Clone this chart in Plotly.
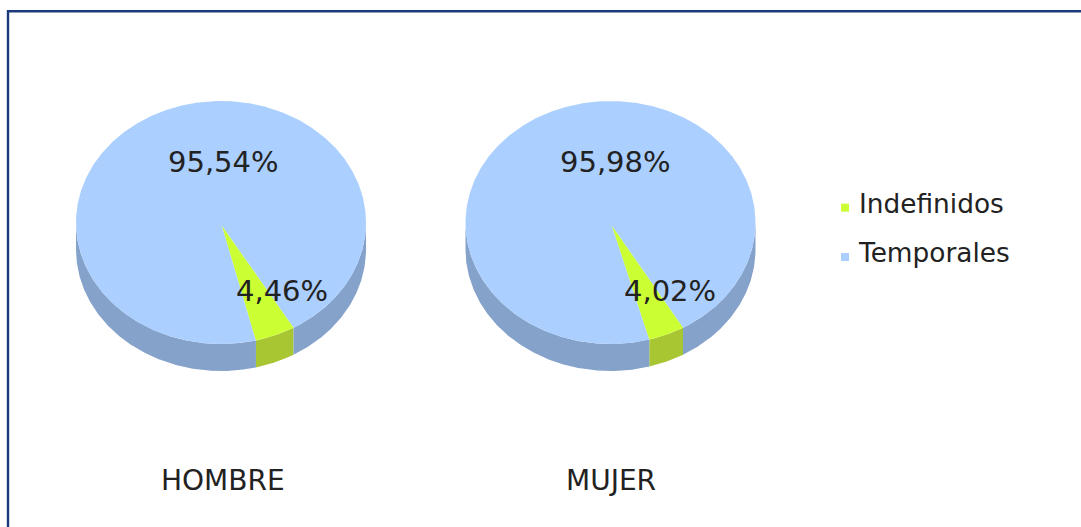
import math
import plotly.graph_objects as go

series_names = ["Indefinidos", "Temporales"]
categories = ["HOMBRE", "MUJER"]
hombre_values = [4.46, 95.54]
mujer_values = [4.02, 95.98]
all_values = [hombre_values, mujer_values]

TOP_COLORS = ["#ccff33", "#abcfff"]
SIDE_COLORS = ["#a8c632", "#85a2ca"]
TEXT = "#222222"
FONT = "DejaVu Sans, Verdana, sans-serif"
W, H = 1081, 527

centers = [(221.0, 222.5), (610.5, 222.5)]
apex_offsets = [(1.0, 3.5), (1.5, 3.5)]
label_pos = [[(282, 291), (223, 162)], [(670, 291), (615, 162)]]
cat_pos = [(223, 480), (611, 480)]
RX, RY, DEPTH = 145.0, 121.5, 27.0
ROTATION = 150.0


def pt(cx, cy, a, dy=0.0):
    r = math.radians(a)
    return cx + RX * math.sin(r), cy - RY * math.cos(r) + dy


def arc(a0, a1):
    n = max(2, int(abs(a1 - a0) * 2))
    return [a0 + (a1 - a0) * i / n for i in range(n + 1)]


fig = go.Figure()

for (cx, cy), (ox, oy), vals in zip(centers, apex_offsets, all_values):
    total = sum(vals)
    spans = []
    a = ROTATION
    for v in vals:
        spans.append((a, a + v / total * 360.0))
        a += v / total * 360.0
    # extruded side, only where the rim faces the viewer
    for (a0, a1), col in zip(spans, SIDE_COLORS):
        for lo, hi in ((90, 270), (450, 630)):
            s, e = max(a0, lo), min(a1, hi)
            if e <= s:
                continue
            top = [pt(cx, cy, t) for t in arc(s, e)]
            bot = [pt(cx, cy, t, DEPTH) for t in arc(e, s)]
            poly = top + bot + top[:1]
            fig.add_trace(go.Scatter(x=[p[0] for p in poly], y=[p[1] for p in poly], mode="lines",
                                     fill="toself", fillcolor=col, line=dict(width=0, color=col),
                                     showlegend=False, hoverinfo="skip"))
    # top face; larger slice first so the thin one stays on top
    order = sorted(range(len(vals)), key=lambda i: -vals[i])
    for i in order:
        a0, a1 = spans[i]
        poly = [(cx + ox, cy + oy)] + [pt(cx, cy, t) for t in arc(a0, a1)] + [(cx + ox, cy + oy)]
        fig.add_trace(go.Scatter(x=[p[0] for p in poly], y=[p[1] for p in poly], mode="lines",
                                 fill="toself", fillcolor=TOP_COLORS[i],
                                 line=dict(width=0, color=TOP_COLORS[i]),
                                 showlegend=False, hoverinfo="skip"))

for name, col in zip(series_names, TOP_COLORS):
    fig.add_trace(go.Scatter(x=[None], y=[None], mode="markers", name=name, legendgroup=name,
                             marker=dict(symbol="square", size=8, color=col)))

annotations = []
for vals, poss in zip(all_values, label_pos):
    for v, (x, y) in zip(vals, poss):
        annotations.append(dict(x=x, y=y, xref="x", yref="y", showarrow=False,
                                text=f"{v:.2f}%".replace(".", ","),
                                font=dict(family=FONT, size=29, color=TEXT)))
for c, (x, y) in zip(categories, cat_pos):
    annotations.append(dict(x=x, y=y, xref="x", yref="y", showarrow=False, text=c,
                            font=dict(family=FONT, size=28, color=TEXT)))

fig.update_layout(
    width=W, height=H, margin=dict(l=0, r=0, t=0, b=0, pad=0),
    paper_bgcolor="white", plot_bgcolor="white",
    xaxis=dict(range=[0, W], visible=False, fixedrange=True),
    yaxis=dict(range=[H, 0], visible=False, fixedrange=True),
    annotations=annotations,
    legend=dict(x=819 / W, y=1 - 179 / H, xanchor="left", yanchor="top",
                font=dict(family=FONT, size=26.4, color=TEXT), tracegroupgap=12,
                bgcolor="rgba(0,0,0,0)"),
    shapes=[dict(type="rect", xref="x", yref="y", x0=8, y0=11.2, x1=W + 20, y1=H + 20,
                 line=dict(color="#1b3a7a", width=2.4), layer="above")],
)

post = """document.body.style.margin='0';document.body.style.overflow='hidden';
document.querySelectorAll('.legendsymbols').forEach(function(e){e.setAttribute('transform','translate(6,5)');});"""
fig.write_html("out.html", post_script=post, config={"displayModeBar": False})
